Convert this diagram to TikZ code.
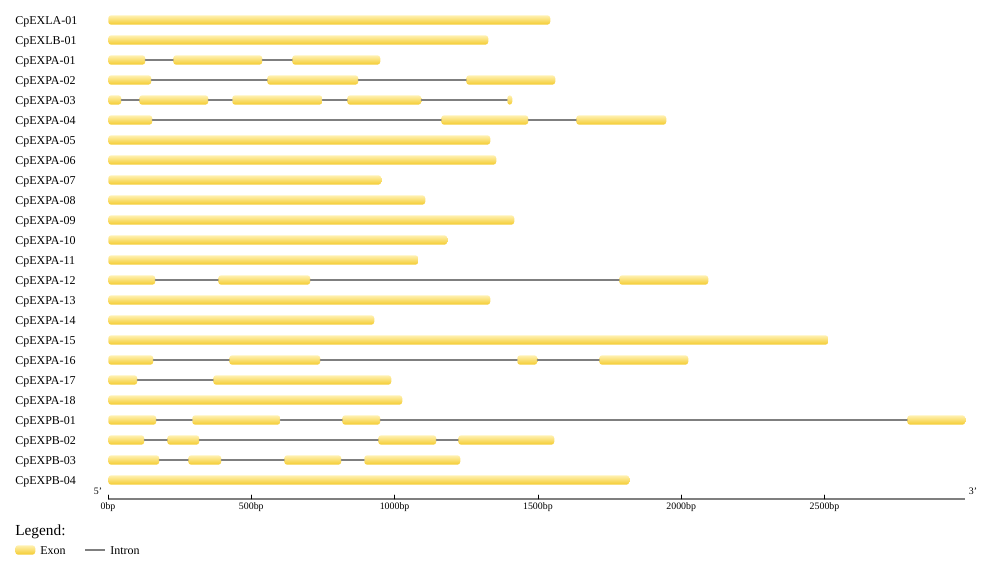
\documentclass[tikz,border=0pt]{standalone}
\usepackage{fontspec}
\setmainfont{Liberation Serif}
\definecolor{exontop}{HTML}{FFF1B2}
\definecolor{exonbot}{HTML}{F4CB2E}
\definecolor{introngray}{HTML}{7F7F7F}
\tikzset{
	exon/.style={draw=none,top color=exontop,bottom color=exonbot,rounded corners=2.2pt,inner sep=0pt,minimum height=7.1pt,anchor=west},
	intron/.style={draw=introngray,line width=1.4pt},
	genename/.style={anchor=base west,inner sep=0pt,font=\fontsize{9}{10}\selectfont},
	ticklabel/.style={anchor=north,inner sep=0pt,font=\fontsize{7.4}{8}\selectfont},
}
\begin{document}
\begin{tikzpicture}[line cap=round,line join=round,>=stealth,x=0.75pt,y=-0.75pt,scale=1]
		\useasboundingbox (0,0) rectangle (1000,570);
		% genes: name / row / exons (start-end in px)
		\foreach \gname/\row/\exons in {
			CpEXLA-01/0/{108/550},
			CpEXLB-01/1/{108/488},
			CpEXPA-01/2/{108/145,173/262,292/380},
			CpEXPA-02/3/{108/151,267/358,466/555},
			CpEXPA-03/4/{108/121,139/208,232/322,347/421,507/512},
			CpEXPA-04/5/{108/152,441/528,576/666},
			CpEXPA-05/6/{108/490},
			CpEXPA-06/7/{108/496},
			CpEXPA-07/8/{108/381},
			CpEXPA-08/9/{108/425},
			CpEXPA-09/10/{108/514},
			CpEXPA-10/11/{108/447},
			CpEXPA-11/12/{108/418},
			CpEXPA-12/13/{108/155,218/310,619/708},
			CpEXPA-13/14/{108/490},
			CpEXPA-14/15/{108/374},
			CpEXPA-15/16/{108/828},
			CpEXPA-16/17/{108/153,229/320,517/537,599/688},
			CpEXPA-17/18/{108/137,213/391},
			CpEXPA-18/19/{108/402},
			CpEXPB-01/20/{108/156,192/280,342/380,907/965},
			CpEXPB-02/21/{108/144,167/199,378/436,458/554},
			CpEXPB-03/22/{108/159,188/221,284/341,364/460},
			CpEXPB-04/23/{108/629}}{
			\node[genename] (name\row) at (15,24.5+20*\row) {\gname};
			\foreach \a/\b [count=\i, remember=\i as \j (initially 0)] in \exons {
				\node[exon,minimum width={(\b-\a)*0.75pt}] (g\row e\i) at (\a,20+20*\row) {};
				\ifnum\j>0
					\draw[intron] (g\row e\j.east) -- (g\row e\i.west);
				\fi
			}
		}
		% scale bar
		\coordinate (ax0) at (108,499);
		\coordinate (ax1) at (965,499);
		\draw[intron,line cap=butt] (ax0) -- (ax1);
		\node[font=\fontsize{7.4}{8}\selectfont,inner sep=0pt] (five) at (98,491) {5'};
		\node[font=\fontsize{7.4}{8}\selectfont,inner sep=0pt] (three) at (973,491) {3'};
		\foreach \t [count=\k from 0] in {0,500,1000,1500,2000,2500} {
			\coordinate (tk\k) at (108+0.2866*\t,499);
			\draw[black,line width=0.6pt] (tk\k) -- ++(0,-4);
			\node[ticklabel] (tl\k) at (108+0.2866*\t,502.5) {\t bp};
		}
		% legend
		\node[anchor=base west,inner sep=0pt,font=\fontsize{11.5}{12}\selectfont] (legend) at (15,535) {Legend:};
		\node[exon,minimum width=15pt] (legexon) at (15,550) {};
		\node[genename] (legexonlbl) at (40,554.5) {Exon};
		\coordinate (legi0) at (85,550);
		\coordinate (legi1) at (105,550);
		\draw[intron,line cap=butt] (legi0) -- (legi1);
		\node[genename] (legintronlbl) at (110,554.5) {Intron};
		\end{tikzpicture}
\end{document}
